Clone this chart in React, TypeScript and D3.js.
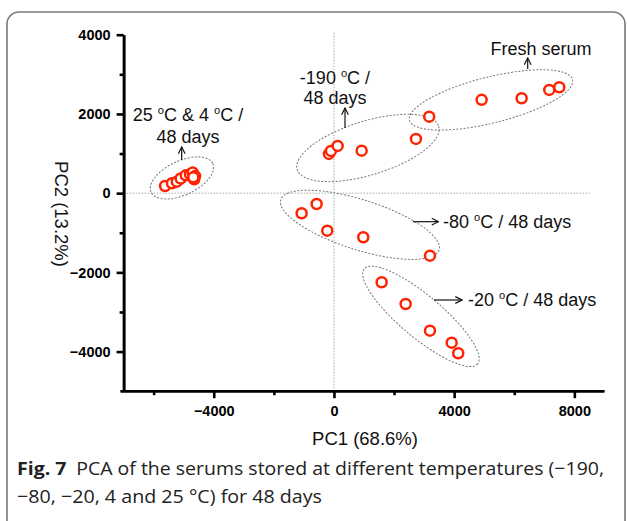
import React, { useEffect, useRef } from "react";
import * as d3 from "d3";

// ---- data ----
const freshPC1 = [3170, 4915, 6246, 7165, 7498];
const freshPC2 = [1930, 2355, 2396, 2606, 2674];

const m190PC1 = [-166, -100, 123, 922, 2729];
const m190PC2 = [990, 1066, 1192, 1073, 1369];

const m80PC1 = [-1075, -576, -223, 975, 3195];
const m80PC2 = [-508, -273, -947, -1114, -1578];

const m20PC1 = [1587, 2386, 3195, 3917, 4136];
const m20PC2 = [-2250, -2798, -3472, -3775, -4043];

const warmPC1 = [-5620, -5390, -5230, -5100, -4930, -4790, -4700, -4650, -4620, -4680];
const warmPC2 = [180, 250, 290, 370, 450, 480, 520, 350, 430, 400];

const xMajorTicks = [-4000, 0, 4000, 8000];
const xMinorTicks = [-6000, -2000, 2000, 6000];
const yMajorTicks = [-4000, -2000, 0, 2000, 4000];
const yMinorTicks = [-3000, -1000, 1000, 3000];

const xTitle = "PC1 (68.6%)";
const yTitle = "PC2 (13.2%)";
const captionBold = "Fig. 7";
const captionLine1 = "PCA of the serums stored at different temperatures (\u2212190,";
const captionLine2 = "\u221280, \u221220, 4 and 25 \u00b0C) for 48 days";

// group ellipses: centre in data units, radii in px, angle in degrees
const groupNames = ["Fresh serum", "-190", "-80", "-20", "25&4"];
const ellipseCX = [5225, 1131, 865, 2895, -5058];
const ellipseCY = [2353, 1140, -800, -3111, 384];
const ellipseRX = [84, 74, 83, 74, 34];
const ellipseRY = [23, 27, 25, 21, 17];
const ellipseAngle = [-14, -17, 17.6, 40, -25];

const W = 627;
const H = 521;
const FONT = "'Liberation Sans', Arial, sans-serif";

function Sup({ lines, x, y, size, anchor, lh }: any) {
  return (
    <g>
      {lines.map((ln: string, i: number) => {
        const parts = ln.split("\u00b0");
        const nodes: any[] = [];
        parts.forEach((p, j) => {
          if (j > 0) {
            nodes.push(
              <tspan key={`s${j}`} fontSize={size * 0.62} dy={-size * 0.38}>o</tspan>
            );
            nodes.push(
              <tspan key={`t${j}`} dy={size * 0.38}>{p}</tspan>
            );
          } else {
            nodes.push(<tspan key={`t${j}`}>{p}</tspan>);
          }
        });
        return (
          <text key={i} x={x} y={y + i * lh} fontSize={size} fontFamily={FONT} textAnchor={anchor} fill="#111">
            {nodes}
          </text>
        );
      })}
    </g>
  );
}

export default function App() {
  const xAxisRef = useRef<SVGGElement>(null);
  const yAxisRef = useRef<SVGGElement>(null);

  const x = d3.scaleLinear().domain([-7000, 9000]).range([123.6, 604.4]);
  const y = d3.scaleLinear().domain([-5000, 4000]).range([391.2, 34.7]);

  useEffect(() => {
    const gx = d3.select(xAxisRef.current!);
    gx.selectAll("*").remove();
    gx.append("g")
      .call(d3.axisBottom(x).tickValues(xMajorTicks).tickSize(7).tickSizeOuter(0).tickPadding(8).tickFormat(d3.format("d")));
    gx.append("g")
      .call(d3.axisBottom(x).tickValues(xMinorTicks).tickSize(4).tickSizeOuter(0).tickFormat(() => ""));
    const gy = d3.select(yAxisRef.current!);
    gy.selectAll("*").remove();
    gy.append("g")
      .call(d3.axisLeft(y).tickValues(yMajorTicks).tickSize(7).tickSizeOuter(0).tickPadding(6).tickFormat(d3.format("d")));
    gy.append("g")
      .call(d3.axisLeft(y).tickValues(yMinorTicks).tickSize(4).tickSizeOuter(0).tickFormat(() => ""));
    [gx, gy].forEach((g) => {
      g.selectAll("path.domain").attr("stroke", "#000").attr("stroke-width", 2.6);
      g.selectAll(".tick line").attr("stroke", "#000").attr("stroke-width", 2.6);
      g.selectAll(".tick text")
        .attr("font-family", FONT)
        .attr("font-weight", "bold")
        .attr("font-size", 14.5)
        .attr("fill", "#000");
    });
    gx.selectAll("path.domain").attr("d", `M${x(-7000) - 3},0H${x(9000)}`);
  }, []);

  const series = [
    { px: freshPC1, py: freshPC2 },
    { px: m190PC1, py: m190PC2 },
    { px: m80PC1, py: m80PC2 },
    { px: m20PC1, py: m20PC2 },
    { px: warmPC1, py: warmPC2 },
  ];

  return (
    <svg width={W} height={H} style={{ position: "absolute", left: 0, top: 0 }}>
      <rect x={7} y={12} width={618} height={520} rx={12} ry={12} fill="#fff" stroke="#777" strokeWidth={1.6} />
      {/* zero lines */}
      <line x1={x(0)} x2={x(0)} y1={y(4000) - 2} y2={y(-5000) - 2} stroke="#aaa" strokeWidth={1} strokeDasharray="1.5,1.5" />
      <line x1={x(-7000)} x2={590} y1={y(0)} y2={y(0)} stroke="#aaa" strokeWidth={1} strokeDasharray="1.5,1.5" />
      {/* ellipses */}
      {groupNames.map((n, i) => (
        <ellipse
          key={n}
          cx={0}
          cy={0}
          rx={ellipseRX[i]}
          ry={ellipseRY[i]}
          transform={`translate(${x(ellipseCX[i])},${y(ellipseCY[i])}) rotate(${ellipseAngle[i]})`}
          fill="none"
          stroke="#777"
          strokeWidth={1}
          strokeDasharray="2,1.6"
        />
      ))}
      {/* points */}
      {series.map((s, si) =>
        s.px.map((v, j) => (
          <circle key={`${si}-${j}`} cx={x(v)} cy={y(s.py[j])} r={5} fill="#fff" stroke="#ff2200" strokeWidth={2.5} />
        ))
      )}
      <g ref={xAxisRef} transform={`translate(0,${y(-5000)})`} />
      <g ref={yAxisRef} transform={`translate(${x(-7000)},0)`} />
      {/* annotations */}
      <defs>
        <marker id="ah" viewBox="0 0 10 10" refX={9} refY={5} markerWidth={7} markerHeight={7} orient="auto-start-reverse">
          <path d="M1,1 L9,5 L1,9" fill="none" stroke="#111" strokeWidth={1.4} />
        </marker>
      </defs>
      <line x1={527.7} y1={69} x2={527.7} y2={58} stroke="#111" strokeWidth={1.2} markerEnd="url(#ah)" />
      <line x1={345} y1={128} x2={345} y2={108} stroke="#111" strokeWidth={1.2} markerEnd="url(#ah)" />
      <line x1={181.7} y1={160} x2={181.7} y2={147} stroke="#111" strokeWidth={1.2} markerEnd="url(#ah)" />
      <line x1={413} y1={221.7} x2={438.5} y2={221.7} stroke="#111" strokeWidth={1.2} markerEnd="url(#ah)" />
      <line x1={434} y1={300} x2={462} y2={300} stroke="#111" strokeWidth={1.2} markerEnd="url(#ah)" />
      <Sup lines={["Fresh serum"]} x={541} y={54.5} size={18} anchor="middle" lh={20} />
      <Sup lines={["-190 \u00b0C /", "48 days"]} x={335} y={84} size={18} anchor="middle" lh={20} />
      <Sup lines={["25 \u00b0C & 4 \u00b0C /", "48 days"]} x={188} y={121} size={18} anchor="middle" lh={21.5} />
      <Sup lines={["-80 \u00b0C / 48 days"]} x={443} y={228} size={18} anchor="start" lh={20} />
      <Sup lines={["-20 \u00b0C / 48 days"]} x={468} y={306.3} size={18} anchor="start" lh={20} />
      {/* axis titles */}
      <text x={365} y={445} textAnchor="middle" fontFamily={FONT} fontSize={18.5} fill="#111">{xTitle}</text>
      <text transform={`translate(55,214) rotate(90)`} textAnchor="middle" fontFamily={FONT} fontSize={18.5} fill="#111">{yTitle}</text>
      {/* caption */}
      <text x={17} y={474.5} fontFamily="'Open Sans', 'Noto Sans', sans-serif" fontSize={18.5} fill="#222" textLength={587} lengthAdjust="spacingAndGlyphs">
        <tspan fontWeight="bold">{captionBold}</tspan>
        <tspan>{"\u2002" + captionLine1}</tspan>
      </text>
      <text x={17} y={502.5} fontFamily="'Open Sans', 'Noto Sans', sans-serif" fontSize={18.5} fill="#222" textLength={305} lengthAdjust="spacingAndGlyphs">
        {captionLine2}
      </text>
    </svg>
  );
}
